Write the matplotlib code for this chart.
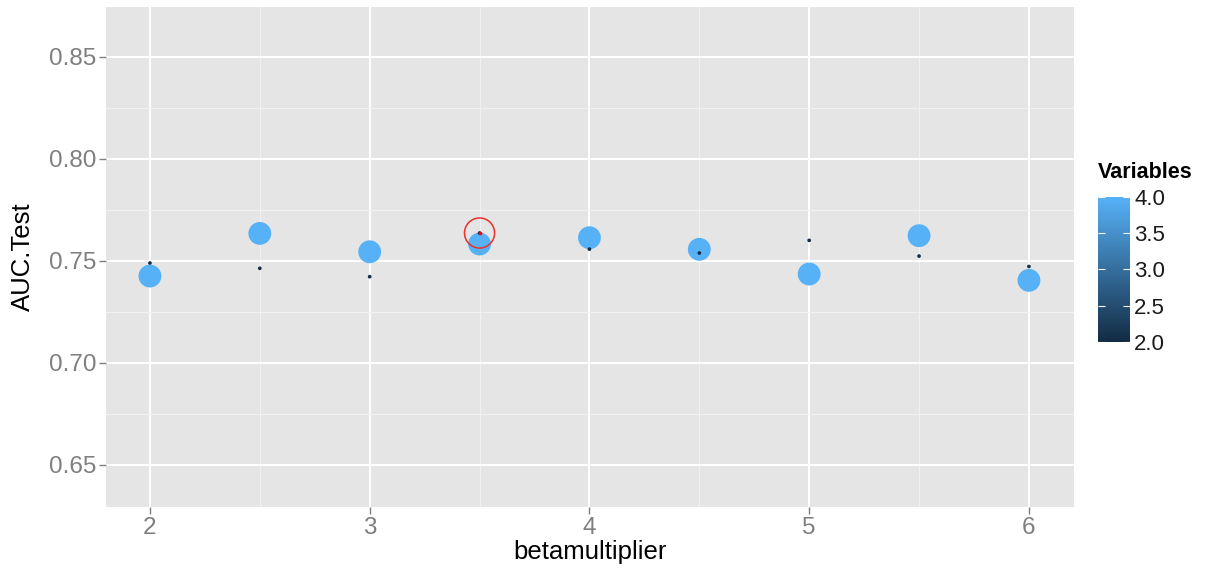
import matplotlib.pyplot as plt
from matplotlib.colors import LinearSegmentedColormap, Normalize
from matplotlib.cm import ScalarMappable
from matplotlib.ticker import MultipleLocator

plt.rcParams['font.family'] = ['Liberation Sans', 'DejaVu Sans']

betamultiplier = [2.0, 2.5, 3.0, 3.5, 4.0, 4.5, 5.0, 5.5, 6.0]
auc_big = [0.7426, 0.7635, 0.7545, 0.7583, 0.7614, 0.7557, 0.7436, 0.7624, 0.7405]
auc_small = [0.7490, 0.7464, 0.7423, 0.7637, 0.7558, 0.7539, 0.7601, 0.7524, 0.7473]
vars_big = [4] * 9
vars_small = [2] * 9
best_x = 3.5
best_auc = 0.7637

cmap = LinearSegmentedColormap.from_list('ggblue', ['#132B43', '#56B1F7'])
norm = Normalize(vmin=2, vmax=4)

fig = plt.figure(figsize=(12.07, 5.69), dpi=100)
ax = fig.add_axes([0.0878, 0.109, 0.802, 0.8787])
ax.set_facecolor('#E5E5E5')

ax.scatter(betamultiplier, auc_big, c=vars_big, cmap=cmap, norm=norm,
           s=270, linewidths=0, zorder=3)
ax.scatter(betamultiplier, auc_small, c=vars_small, cmap=cmap, norm=norm,
           s=7, linewidths=0, zorder=4)
# highlight of best model
ax.scatter([best_x], [best_auc], s=7, color='red', linewidths=0, zorder=5)
ax.scatter([best_x], [best_auc], s=470, facecolors='none', edgecolors='#E8302A',
           linewidths=1.1, zorder=5)

ax.set_xlim(1.80, 6.205)
ax.set_ylim(0.6294, 0.8745)
ax.xaxis.set_major_locator(MultipleLocator(1))
ax.xaxis.set_minor_locator(MultipleLocator(0.5))
ax.yaxis.set_minor_locator(MultipleLocator(0.025))
ax.set_yticks([0.65, 0.70, 0.75, 0.80, 0.85])
ax.set_yticklabels(['0.65', '0.70', '0.75', '0.80', '0.85'])
ax.grid(which='major', color='white', linewidth=1.4)
ax.grid(which='minor', color='#F2F2F2', linewidth=0.7)
ax.set_axisbelow(True)
for sp in ax.spines.values():
    sp.set_visible(False)
ax.tick_params(which='major', length=5, width=1, color='#7F7F7F',
               labelcolor='#7F7F7F', labelsize=17.5, pad=2)
ax.tick_params(which='minor', length=0)

ax.set_xlabel('betamultiplier', fontsize=18.5, labelpad=1)
ax.set_ylabel('AUC.Test', fontsize=18.5, labelpad=10)

# colour bar legend
cax = fig.add_axes([0.9097, 0.399, 0.0265, 0.2548])
sm = ScalarMappable(norm=norm, cmap=cmap)
cb = fig.colorbar(sm, cax=cax, ticks=[2.0, 2.5, 3.0, 3.5, 4.0])
cb.outline.set_visible(False)
cb.ax.set_yticklabels(['2.0', '2.5', '3.0', '3.5', '4.0'])
cax.tick_params(axis='y', direction='in', length=5, width=0.8, color='white',
                left=True, right=True, labelsize=16, labelcolor='#1A1A1A', pad=3)
fig.text(0.9097, 0.678, 'Variables', fontsize=15.5, fontweight='bold',
         ha='left', va='bottom')

fig.savefig('out.png', dpi=100)
